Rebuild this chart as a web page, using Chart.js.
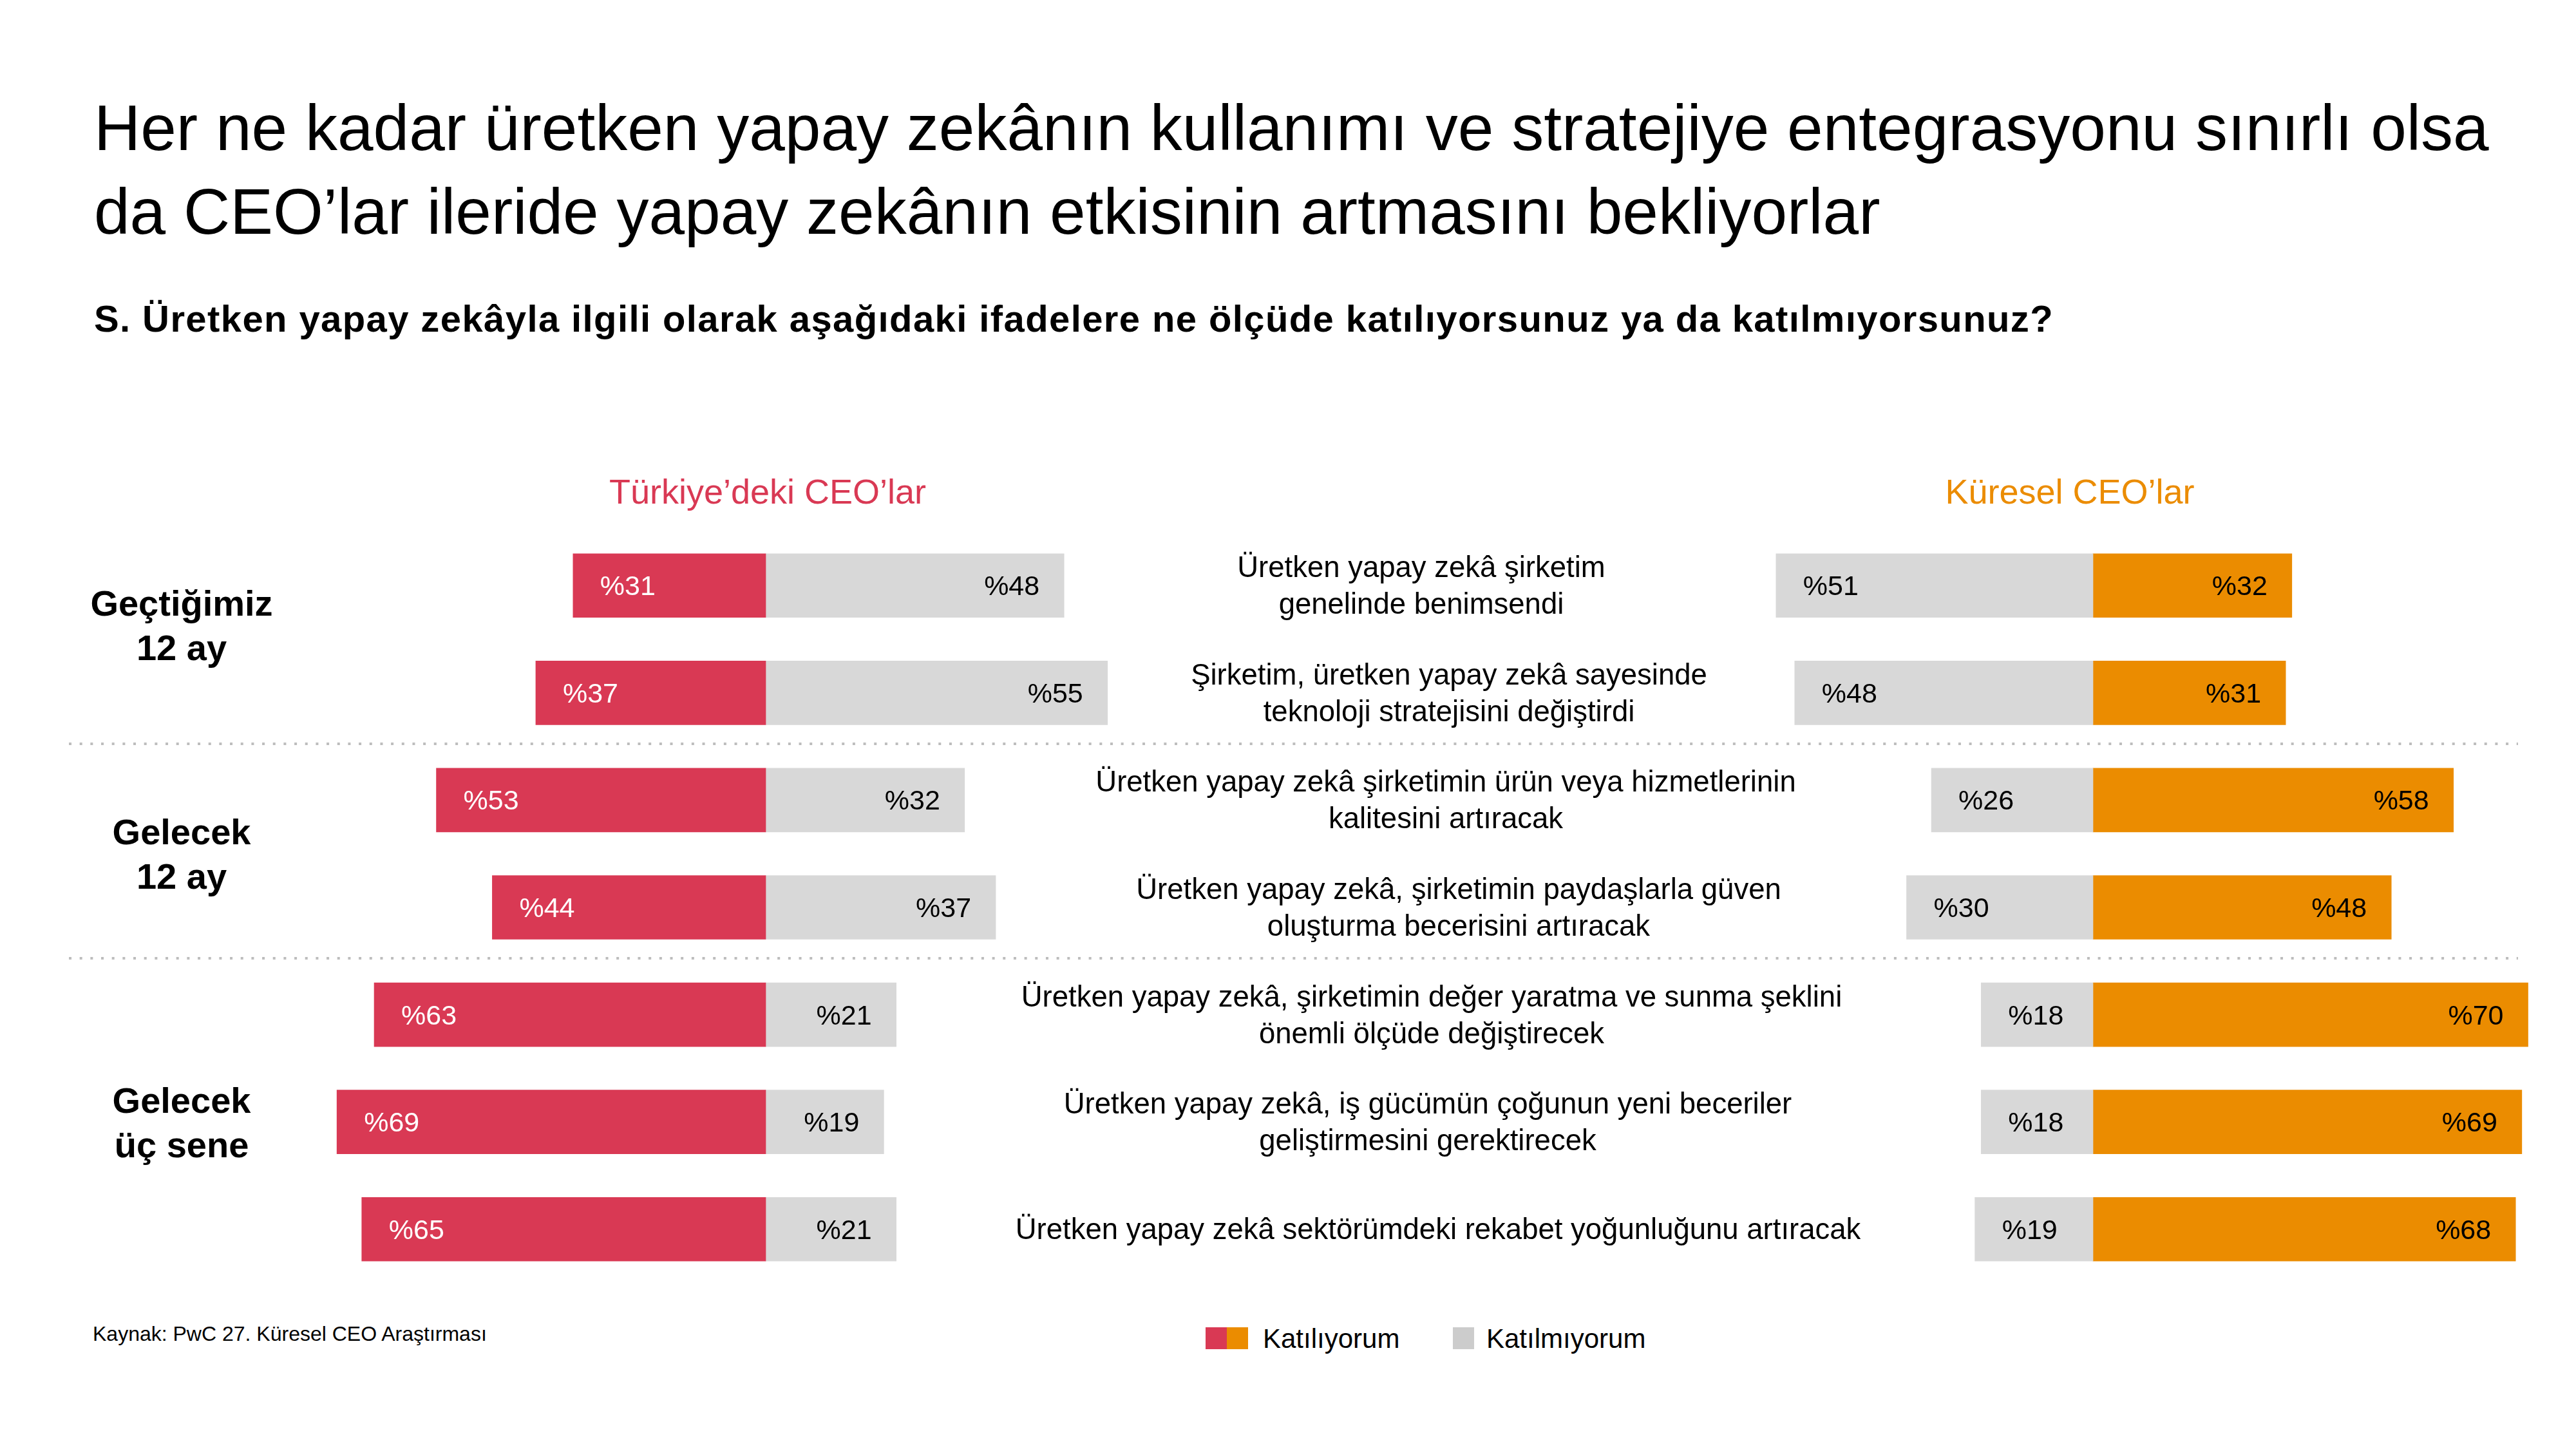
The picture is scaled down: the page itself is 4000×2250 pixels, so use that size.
<!DOCTYPE html>
<html lang="tr">
<head>
<meta charset="utf-8">
<script src="https://cdn.jsdelivr.net/npm/chart.js@4.4.1/dist/chart.umd.min.js"></script>
<style>
html,body{margin:0;padding:0;background:#fff;}
#page{position:relative;width:4000px;height:2250px;overflow:hidden;font-family:'Liberation Sans',Arial,Helvetica,sans-serif;color:#000;background:#fff;}
.t{position:absolute;white-space:nowrap;}
#chartWrap{position:absolute;left:0;top:826px;width:4000px;height:1166px;}
.sw{position:absolute;}
</style>
</head>
<body>
<div id="page">
  <div id="chartWrap"><canvas id="c"></canvas></div>
</div>
<script>
// ---------- DATA ----------
const statements = [
  ["Üretken yapay zekâ şirketim", "genelinde benimsendi"],
  ["Şirketim, üretken yapay zekâ sayesinde", "teknoloji stratejisini değiştirdi"],
  ["Üretken yapay zekâ şirketimin ürün veya hizmetlerinin", "kalitesini artıracak"],
  ["Üretken yapay zekâ, şirketimin paydaşlarla güven", "oluşturma becerisini artıracak"],
  ["Üretken yapay zekâ, şirketimin değer yaratma ve sunma şeklini", "önemli ölçüde değiştirecek"],
  ["Üretken yapay zekâ, iş gücümün çoğunun yeni beceriler", "geliştirmesini gerektirecek"],
  ["Üretken yapay zekâ sektörümdeki rekabet yoğunluğunu artıracak"]
];
const trAgree    = [31, 37, 53, 44, 63, 69, 65];
const trDisagree = [48, 55, 32, 37, 21, 19, 21];
const glDisagree = [51, 48, 26, 30, 18, 18, 19];
const glAgree    = [32, 31, 58, 48, 70, 69, 68];
const groupLabels = [["Geçtiğimiz", "12 ay"], ["Gelecek", "12 ay"], ["Gelecek", "üç sene"]];
const groupRows   = [[0, 1], [2, 3], [4, 6]];
const titleLines = [
  "Her ne kadar üretken yapay zekânın kullanımı ve stratejiye entegrasyonu sınırlı olsa",
  "da CEO’lar ileride yapay zekânın etkisinin artmasını bekliyorlar"
];
const subtitle = "S. Üretken yapay zekâyla ilgili olarak aşağıdaki ifadelere ne ölçüde katılıyorsunuz ya da katılmıyorsunuz?";
const panelTitles = ["Türkiye’deki CEO’lar", "Küresel CEO’lar"];
const legendLabels = ["Katılıyorum", "Katılmıyorum"];
const sourceText = "Kaynak: PwC 27. Küresel CEO Araştırması";
const pctPrefix = "%";

// ---------- STYLE / LAYOUT ----------
const RED = '#D93954', ORANGE = '#EB8C00', GREY = '#D8D8D8', LEG_GREY = '#CCCCCC', DOT = '#BDBDBD';
const FONT = "'Liberation Sans', Arial, Helvetica, sans-serif";
const PX_PER_UNIT = 9.65, CANVAS_W = 4000, ZERO_L = 1189, ZERO_R = 3250;
const WRAP_TOP = 826;
const stmtCenterX = [2207, 2250, 2245, 2265, 2223, 2217, 2233];
const groupNudge = [-22, 0, 0];

const page = document.getElementById('page');
function addText(str, x, baseline, size, o) {
  o = o || {};
  const d = document.createElement('div');
  d.className = 't';
  d.textContent = str;
  d.style.fontSize = size + 'px';
  d.style.lineHeight = size + 'px';
  d.style.fontWeight = o.weight || 400;
  d.style.color = o.color || '#000';
  d.style.top = (baseline - 0.8465 * size) + 'px';
  if (o.align === 'center') {
    d.style.left = (x - 1500) + 'px';
    d.style.width = '3000px';
    d.style.textAlign = 'center';
  } else {
    d.style.left = x + 'px';
  }
  if (o.ls) d.style.letterSpacing = o.ls + 'px';
  page.appendChild(d);
  return d;
}

// header texts
addText(titleLines[0], 146, 233, 100);
addText(titleLines[1], 146, 363, 100);
addText(subtitle, 146, 515, 58, {weight: 700, ls: 1.4});
addText(panelTitles[0], 1192, 782, 54, {align: 'center', color: RED});
addText(panelTitles[1], 3214, 782, 54, {align: 'center', color: ORANGE});
addText(sourceText, 144, 2082, 32);

// legend
function sw(x, y, w, h, c) {
  const s = document.createElement('div');
  s.className = 'sw';
  Object.assign(s.style, {left: x + 'px', top: y + 'px', width: w + 'px', height: h + 'px', background: c});
  page.appendChild(s);
}
sw(1872, 2061, 33, 34, RED);
sw(1905, 2061, 33, 34, ORANGE);
addText(legendLabels[0], 1961, 2094, 42);
sw(2256, 2061, 33, 34, LEG_GREY);
addText(legendLabels[1], 2308, 2094, 42);

// ---------- CHART ----------
const labelPlugin = {
  id: 'barLabels',
  beforeDatasetsDraw(chart) {
    const ctx = chart.ctx, y = chart.scales.y;
    ctx.save();
    ctx.strokeStyle = DOT;
    ctx.lineWidth = 4;
    ctx.setLineDash([4, 12.67]);
    for (let g = 1; g < groupRows.length; g++) {
      const r = groupRows[g][0];
      const yy = Math.round((y.getPixelForValue(r - 1) + y.getPixelForValue(r)) / 2) - 4;
      ctx.beginPath();
      ctx.moveTo(107, yy);
      ctx.lineTo(3910, yy);
      ctx.stroke();
    }
    ctx.restore();
  },
  afterDatasetsDraw(chart) {
    const ctx = chart.ctx;
    ctx.save();
    ctx.font = '43px ' + FONT;
    ctx.textBaseline = 'alphabetic';
    chart.data.datasets.forEach((ds, di) => {
      const meta = chart.getDatasetMeta(di);
      meta.data.forEach((bar, i) => {
        const left = Math.min(bar.x, bar.base), right = Math.max(bar.x, bar.base);
        ctx.fillStyle = ds.labelColor;
        const txt = pctPrefix + ds.raw[i];
        const by = bar.y + 15;
        if (ds.labelSide === 'start') {
          ctx.textAlign = 'left';
          ctx.fillText(txt, left + 42, by);
        } else {
          ctx.textAlign = 'right';
          ctx.fillText(txt, right - 38, by);
        }
      });
    });
    ctx.restore();
  }
};

const common = {grouped: false, barThickness: 99, borderWidth: 0, borderSkipped: false};
const chart = new Chart(document.getElementById('c'), {
  type: 'bar',
  data: {
    labels: statements.map(s => s.join(' ')),
    datasets: [
      Object.assign({label: legendLabels[0], data: trAgree.map(v => -v), raw: trAgree, xAxisID: 'xL',
        backgroundColor: RED, labelColor: '#fff', labelSide: 'start'}, common),
      Object.assign({label: legendLabels[1], data: trDisagree, raw: trDisagree, xAxisID: 'xL',
        backgroundColor: GREY, labelColor: '#000', labelSide: 'end'}, common),
      Object.assign({label: legendLabels[1], data: glDisagree.map(v => -v), raw: glDisagree, xAxisID: 'xR',
        backgroundColor: GREY, labelColor: '#000', labelSide: 'start'}, common),
      Object.assign({label: legendLabels[0], data: glAgree, raw: glAgree, xAxisID: 'xR',
        backgroundColor: ORANGE, labelColor: '#000', labelSide: 'end'}, common)
    ]
  },
  options: {
    indexAxis: 'y',
    responsive: true,
    maintainAspectRatio: false,
    animation: false,
    devicePixelRatio: 1,
    layout: {padding: 0},
    plugins: {legend: {display: false}, tooltip: {enabled: false}},
    scales: {
      y: {type: 'category', display: false, offset: true, grid: {display: false}},
      xL: {type: 'linear', axis: 'x', display: false, min: -ZERO_L / PX_PER_UNIT, max: (CANVAS_W - ZERO_L) / PX_PER_UNIT},
      xR: {type: 'linear', axis: 'x', display: false, min: -ZERO_R / PX_PER_UNIT, max: (CANVAS_W - ZERO_R) / PX_PER_UNIT}
    }
  },
  plugins: [labelPlugin]
});

// statements & group labels positioned from the category scale
const yS = chart.scales.y;
statements.forEach((lines, i) => {
  const c = WRAP_TOP + yS.getPixelForValue(i);
  const lh = 57, cap = 32;
  const firstBase = c + cap / 2 - (lines.length - 1) * lh / 2;
  lines.forEach((ln, k) => addText(ln, stmtCenterX[i], firstBase + k * lh, 45.5, {align: 'center'}));
});
groupLabels.forEach((lines, g) => {
  const [a, b] = groupRows[g];
  const c = WRAP_TOP + (yS.getPixelForValue(a) + yS.getPixelForValue(b)) / 2 + groupNudge[g];
  const lh = 69, cap = 41;
  const firstBase = c + cap / 2 - (lines.length - 1) * lh / 2;
  lines.forEach((ln, k) => addText(ln, 282, firstBase + k * lh, 56, {align: 'center', weight: 700}));
});
</script>
</body>
</html>
